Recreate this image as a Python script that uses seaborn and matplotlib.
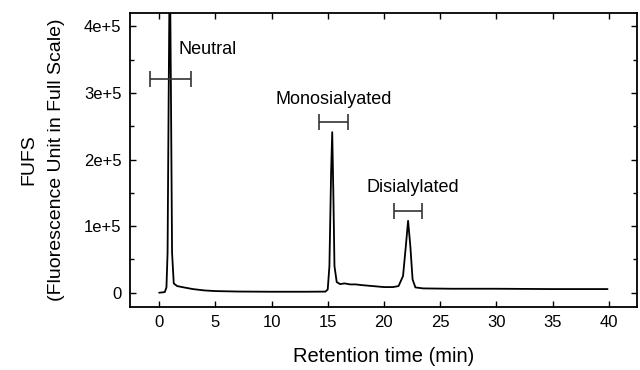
import numpy as np
import pandas as pd
import matplotlib
matplotlib.use("Agg")
import matplotlib.pyplot as plt
import seaborn as sns
from matplotlib.ticker import FixedLocator, FixedFormatter, MultipleLocator

# Chromatogram trace (retention time in min, signal in FUFS)
time_min = [0.0, 0.5, 0.65, 0.75, 0.85, 0.95, 1.05, 1.15, 1.3, 1.6, 2.2, 3.0, 4.0, 5.0, 7.0,
            10.0, 13.0, 14.8, 15.0, 15.15, 15.3, 15.4, 15.5, 15.6, 15.8, 16.1, 16.5, 17.0,
            17.5, 18.0, 19.0, 20.0, 20.8, 21.3, 21.7, 21.95, 22.15, 22.35, 22.55, 22.8,
            23.5, 26.0, 30.0, 35.0, 39.9]
signal = [0, 1000, 8000, 60000, 300000, 520000, 300000, 60000, 14000, 10000, 8000, 5500,
          3500, 2500, 1800, 1500, 1500, 1700, 5000, 40000, 180000, 241000, 150000, 40000,
          16000, 13000, 14000, 12500, 12500, 11500, 10000, 8500, 8500, 10000, 25000, 70000,
          108000, 70000, 20000, 8000, 6500, 6000, 6000, 5500, 5500]

# Fraction brackets
frac_names = ["Neutral", "Monosialyated", "Disialylated"]
frac_center = [1.02, 15.5, 22.15]
frac_halfwidth = [1.82, 1.27, 1.25]
frac_level = [321000, 257000, 122000]
label_x = [1.7, 15.5, 22.6]
label_y = [365000, 290000, 158000]
label_ha = ["left", "center", "center"]

x_ticks = [0, 5, 10, 15, 20, 25, 30, 35, 40]
y_ticks = [0, 100000, 200000, 300000, 400000]
y_tick_labels = ["0", "1e+5", "2e+5", "3e+5", "4e+5"]

sns.set_theme(style="ticks")
plt.rcParams["font.family"] = ["Liberation Sans", "DejaVu Sans"]
plt.rcParams["text.color"] = "black"
plt.rcParams["axes.labelcolor"] = "black"

fig = plt.figure(figsize=(6.4, 3.7), dpi=100)
ax = fig.add_axes([0.203, 0.171, 0.792, 0.794])

df = pd.DataFrame({"t": time_min, "s": signal})
sns.lineplot(data=df, x="t", y="s", ax=ax, color="black", linewidth=1.3,
             estimator=None, sort=False)

for c, hw, lv in zip(frac_center, frac_halfwidth, frac_level):
    ax.errorbar(c, lv, xerr=hw, fmt="none", ecolor="#333333", elinewidth=1.2,
                capsize=6, capthick=1.2)

for name, lx, ly, ha in zip(frac_names, label_x, label_y, label_ha):
    ax.text(lx, ly, name, ha=ha, va="center", fontsize=13, color="black")

ax.set_xlim(-2.6, 42.5)
ax.set_ylim(-21000, 420000)
ax.xaxis.set_major_locator(FixedLocator(x_ticks))
ax.yaxis.set_major_locator(FixedLocator(y_ticks))
ax.yaxis.set_major_formatter(FixedFormatter(y_tick_labels))
ax.yaxis.set_minor_locator(MultipleLocator(50000))

ax.tick_params(which="both", direction="in", top=True, right=True, colors="black",
               labelsize=12, width=1.0)
ax.tick_params(which="major", length=4, pad=6)
ax.tick_params(which="minor", length=3)
ax.tick_params(axis="x", labeltop=False)
ax.tick_params(axis="y", labelright=False)

for sp in ax.spines.values():
    sp.set_visible(True)
    sp.set_color("black")
    sp.set_linewidth(1.3)

ax.set_xlabel("Retention time (min)", fontsize=14.5, labelpad=12)
ax.set_ylabel("FUFS\n(Fluorescence Unit in Full Scale)", fontsize=14, labelpad=14,
              linespacing=1.75)

fig.savefig("out.png", dpi=100)
